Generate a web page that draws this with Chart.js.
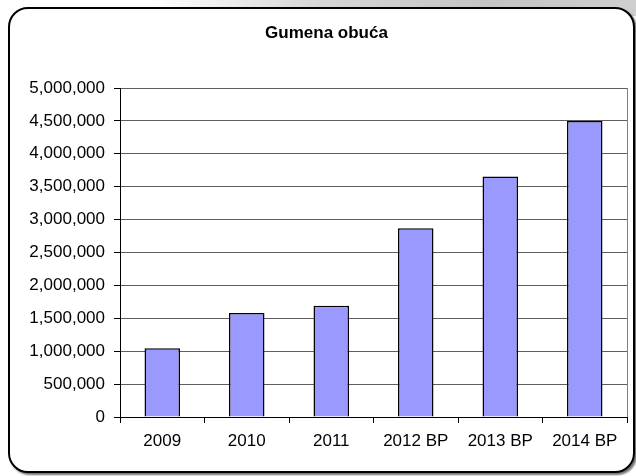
<!DOCTYPE html>
<html>
<head>
<meta charset="utf-8">
<script src="https://cdn.jsdelivr.net/npm/chart.js@4"></script>
<style>
  html, body { margin: 0; padding: 0; background: #fff; }
  body { width: 636px; height: 476px; position: relative; overflow: hidden; }
  #band {
    position: absolute; left: 150px; top: 0; width: 486px; height: 16px;
    background: linear-gradient(to right, #fff 0%, #d6d6d6 35%, #c4c4c4 70%, #cfcfcf 100%);
  }
  #frame {
    position: absolute; left: 8px; top: 7px; width: 623px; height: 462px;
    border: 2px solid #000; border-radius: 20px; background: #fff;
    box-shadow: 2px 2px 2px rgba(0, 0, 0, 0.55);
  }
  #wrap { position: absolute; left: 0; top: 0; width: 636px; height: 476px; }
</style>
</head>
<body>
<div id="band"></div>
<div id="frame"></div>
<div id="wrap"><canvas id="chart" width="636" height="476"></canvas></div>
<script>
const categories = ["2009", "2010", "2011", "2012 BP", "2013 BP", "2014 BP"];
const values = [1045000, 1580000, 1690000, 2870000, 3655000, 4500000];
const yMax = 5000000;
const yStep = 500000;

// right edge of the plot area, like the excel frame
const plotFrame = {
  id: "plotFrame",
  afterDraw(chart) {
    const { ctx, chartArea } = chart;
    ctx.save();
    ctx.strokeStyle = "#808080";
    ctx.lineWidth = 1;
    ctx.beginPath();
    ctx.moveTo(Math.round(chartArea.right) + 0.5, chartArea.top);
    ctx.lineTo(Math.round(chartArea.right) + 0.5, chartArea.bottom);
    ctx.stroke();
    ctx.restore();
  },
};

Chart.defaults.font.family = "'Liberation Sans', Arial, sans-serif";
Chart.defaults.color = "#000";

new Chart(document.getElementById("chart").getContext("2d"), {
  type: "bar",
  data: {
    labels: categories,
    datasets: [
      {
        data: values,
        backgroundColor: "#9999FF",
        borderColor: "#000",
        borderWidth: 1.5,
        barPercentage: 0.42,
        categoryPercentage: 1,
      },
    ],
  },
  options: {
    responsive: false,
    animation: false,
    layout: { padding: { left: 26, right: 9, top: 0, bottom: 0 } },
    plugins: {
      legend: { display: false },
      tooltip: { enabled: false },
      title: {
        display: true,
        text: "Gumena obuća",
        color: "#000",
        font: { size: 17, weight: "bold" },
        padding: { top: 23, bottom: 44.6 },
      },
    },
    scales: {
      x: {
        grid: {
          drawOnChartArea: false,
          color: "#000",
          tickLength: 6,
        },
        border: { color: "#000", width: 1 },
        ticks: { font: { size: 17 }, padding: 8, maxRotation: 0 },
        afterFit(scale) {
          scale.height = 59;
        },
      },
      y: {
        min: 0,
        max: yMax,
        grid: { color: "#5e5e5e", tickColor: "#000", tickLength: 6 },
        border: { color: "#000", width: 1 },
        ticks: {
          stepSize: yStep,
          font: { size: 17 },
          padding: 9,
          callback: (v) => v.toLocaleString("en-US"),
        },
        afterFit(scale) {
          scale.width = 94;
        },
      },
    },
  },
  plugins: [plotFrame],
});
</script>
</body>
</html>
